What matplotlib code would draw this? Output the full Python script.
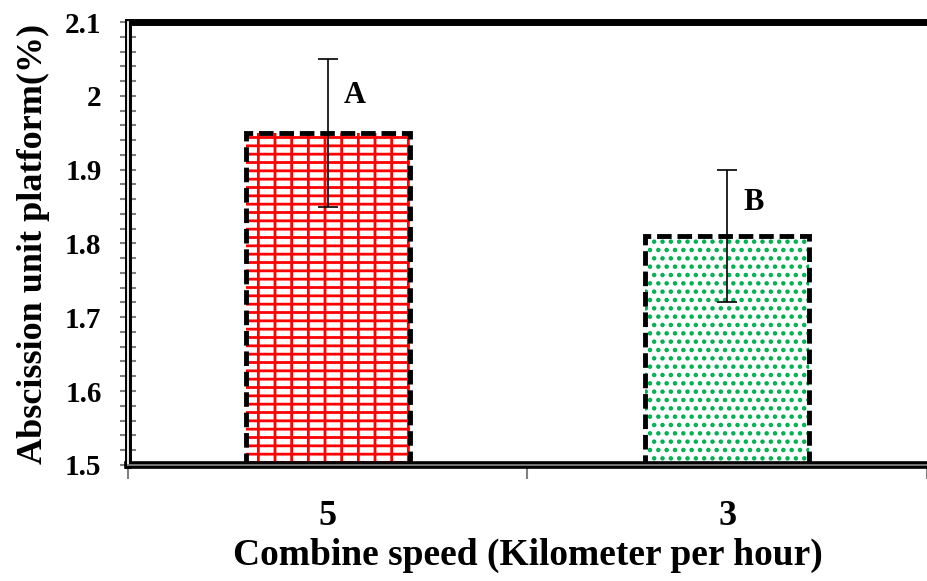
import matplotlib
matplotlib.use("Agg")
import matplotlib.pyplot as plt
import numpy as np

# data
speeds = ["5", "3"]
platform = [1.95, 1.81]
errors = [0.10, 0.09]
letters = ["A", "B"]

plt.rcParams["font.family"] = ["Liberation Serif", "DejaVu Serif"]
plt.rcParams["font.weight"] = "bold"
plt.rcParams["hatch.linewidth"] = 2.0

fig = plt.figure(figsize=(9.27, 5.81), dpi=100)
ax = fig.add_axes([0.138, 0.2, 0.862, 0.762])

x = np.arange(len(speeds))
width = 0.41
base = 1.5
heights = np.array(platform) - base

# red brick-ish fill for the first bar, green dots for the second
ax.bar(x[0], heights[0], width, bottom=base, facecolor="white",
       edgecolor="red", hatch="--", linewidth=0, zorder=2)
ax.bar(x[0], heights[0], width, bottom=base, facecolor="none",
       edgecolor="red", hatch="|", linewidth=0, zorder=2)
ax.bar(x[1], heights[1], width, bottom=base, facecolor="white",
       edgecolor="#00b050", hatch="..", linewidth=0, zorder=2)

# dashed black outline on both
ax.bar(x, heights, width, bottom=base, facecolor="none",
       edgecolor="black", linewidth=3.5, linestyle=(0, (3, 1.2)), zorder=3)

ax.errorbar(x, platform, yerr=errors, fmt="none", ecolor="black",
            elinewidth=1.2, capsize=7, capthick=1.2, zorder=4)

for xi, val, err, lab in zip(x, platform, errors, letters):
    ax.text(xi + 0.04, val + err * 0.5, lab, fontsize=22, fontweight="bold",
            ha="left", va="center")

ax.set_xlim(-0.5, 1.5)
ax.set_ylim(1.5, 2.1)
ax.set_yticks(np.arange(1.5, 2.11, 0.1))
ax.set_yticklabels(["1.5", "1.6", "1.7", "1.8", "1.9", "2", "2.1"])
ax.set_yticks(np.arange(1.5, 2.1, 0.02), minor=True)
ax.set_xticks(x)
ax.set_xticklabels(speeds, fontsize=26, fontweight="bold")
ax.set_xticks([-0.5, 0.5, 1.5], minor=True)

ax.tick_params(axis="y", which="both", direction="inout", length=12,
               width=1.5, color="grey", labelsize=21, pad=13)
ax.tick_params(axis="x", which="major", length=0, pad=25)
ax.tick_params(axis="x", which="minor", direction="out", length=10,
               width=1.5, color="grey")

# heavy frame: left and bottom drawn as double lines like the original
ax.spines["right"].set_visible(False)
ax.spines["top"].set_linewidth(5)
ax.spines["bottom"].set_linewidth(5.5)
ax.spines["left"].set_linewidth(5)
ax.axvline(-0.5, color="white", linewidth=1.3, zorder=5, clip_on=False)
ax.axhline(base, color="grey", linewidth=1.3, zorder=5, clip_on=False)

ax.set_xlabel("Combine speed (Kilometer per hour)", fontsize=27,
              fontweight="bold", labelpad=4)
ax.set_ylabel("Abscission unit platform(%)", fontsize=26,
              fontweight="bold", labelpad=11)

fig.savefig("out.png", dpi=100)
